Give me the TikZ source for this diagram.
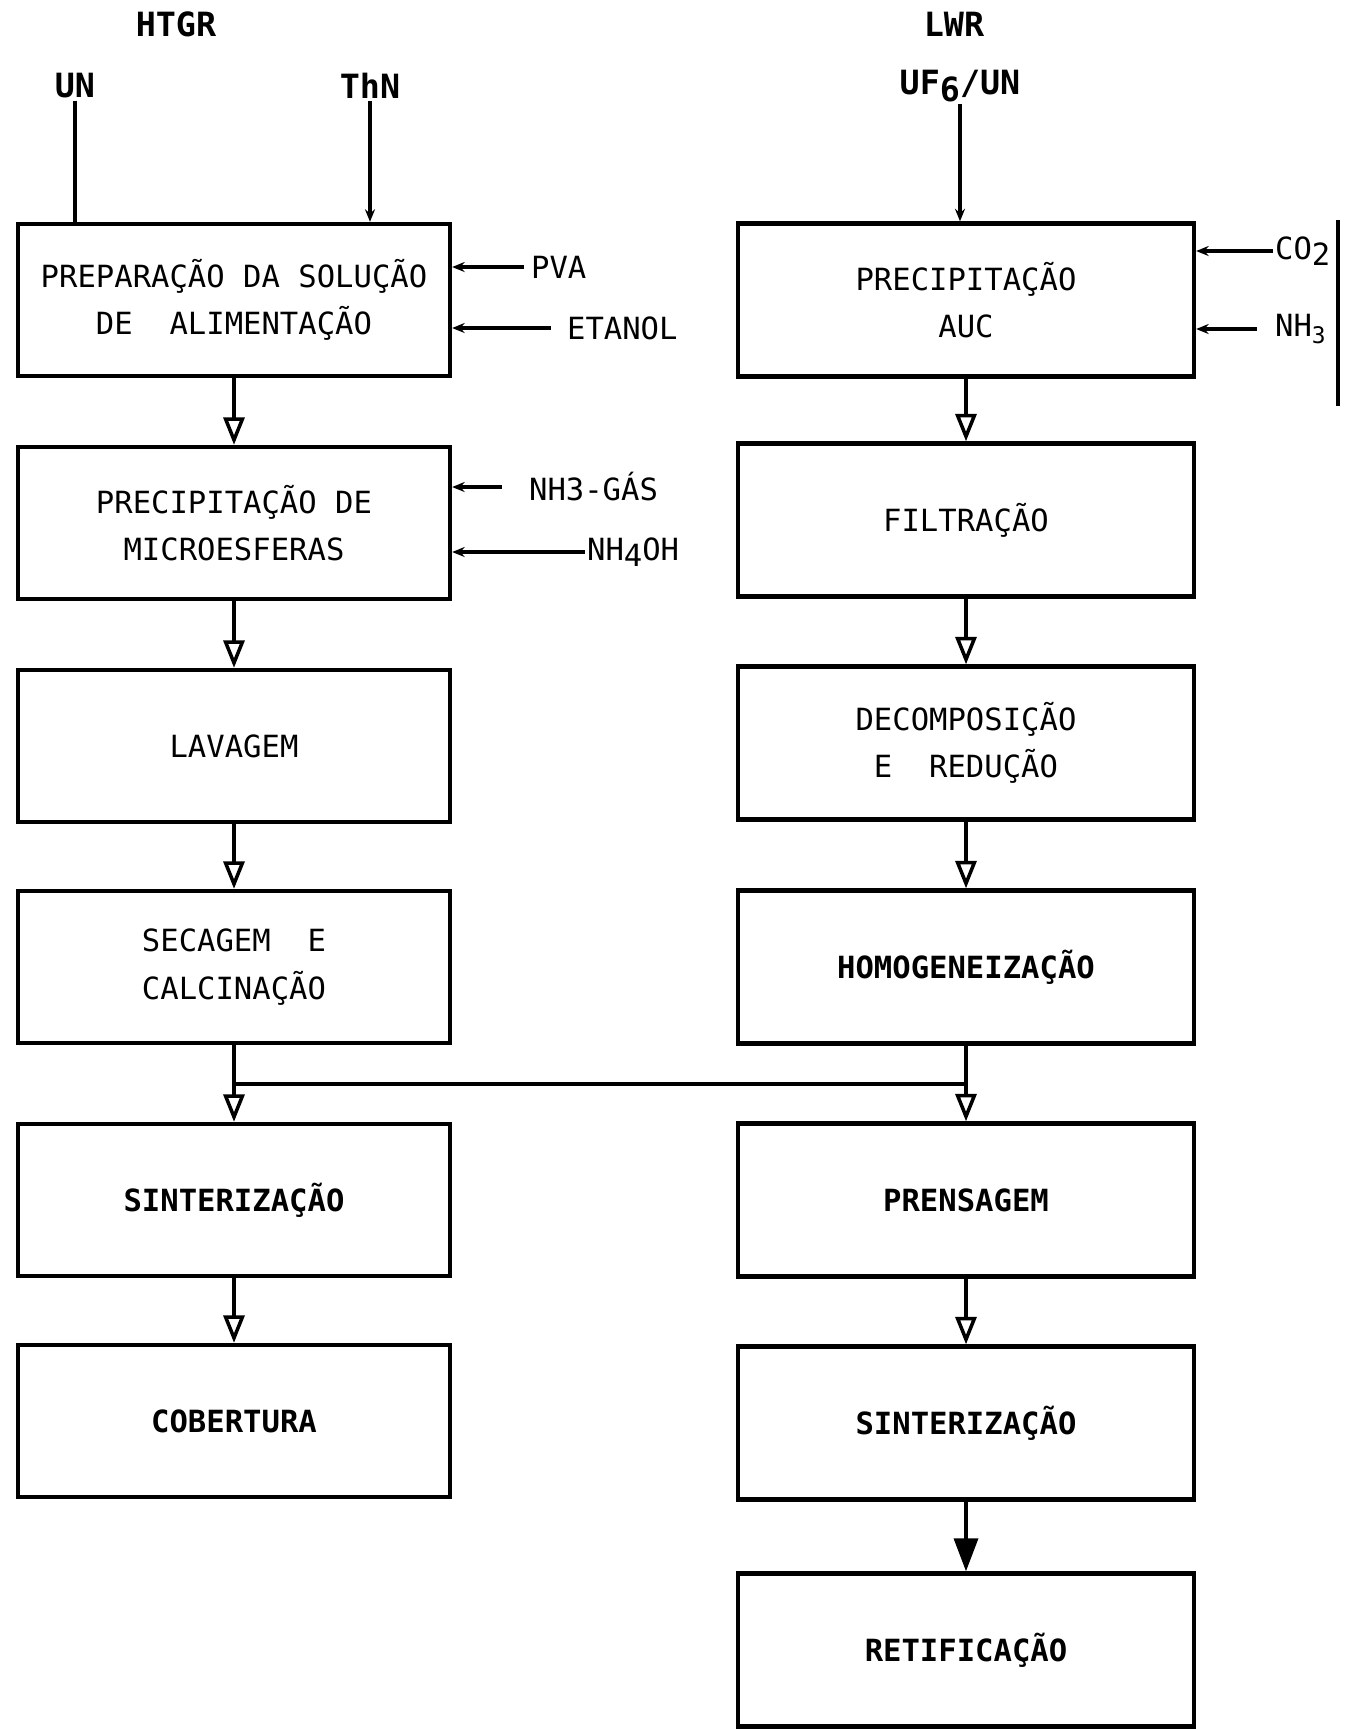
\documentclass[tikz,border=0pt]{standalone}
\usepackage{fontspec}
\setmonofont{DejaVu Sans Mono}
\usetikzlibrary{calc,arrows.meta}
\def\procnode{\node[draw=black,line width=2.5pt,inner sep=0pt,align=center,font=\ttfamily\fontsize{17.4}{27}\selectfont]}
\def\feednode{\node[inner sep=1pt,font=\ttfamily\fontsize{17.4}{20}\selectfont]}
\def\drawflow{\draw[line width=2pt,-{Triangle[open,length=0.55cm,width=0.42cm]}]}
\def\drawfeed{\draw[line width=1.8pt,-{Stealth[length=0.25cm,width=0.2cm]}]}
\newcommand{\lowr}[1]{\raisebox{-0.4ex}{#1}}

\begin{document}
\begin{tikzpicture}[x=0.02cm,y=-0.02cm,
  lbox/.style={minimum width=8.64cm,minimum height=3.04cm},
  rbox/.style={minimum width=9.12cm,minimum height=3.06cm},
  heavy/.style={font=\ttfamily\bfseries\fontsize{17.4}{27}\selectfont}]
\useasboundingbox (0,0) rectangle (1350,1729);

% headings and feeds at the top
\feednode[font=\ttfamily\bfseries\fontsize{19}{20}\selectfont] (htgr) at (176,24) {HTGR};
\feednode[font=\ttfamily\bfseries\fontsize{19}{20}\selectfont] (lwr) at (954,24) {LWR};
\feednode[font=\ttfamily\bfseries\fontsize{19}{20}\selectfont] (un) at (75,86) {UN};
\feednode[font=\ttfamily\bfseries\fontsize{19}{20}\selectfont] (thn) at (370,86) {ThN};
\feednode[font=\ttfamily\bfseries\fontsize{19}{20}\selectfont] (uf) at (960,86) {UF\lowr{6}/UN};

% HTGR column
\procnode[lbox] (L1) at (234,300) {PREPARAÇÃO DA SOLUÇÃO\\DE\ \ ALIMENTAÇÃO};
\procnode[lbox] (L2) at (234,523) {PRECIPITAÇÃO DE\\MICROESFERAS};
\procnode[lbox] (L3) at (234,746) {LAVAGEM};
\procnode[lbox] (L4) at (234,967) {SECAGEM\ \ E\\CALCINAÇÃO};
\procnode[lbox,heavy] (L5) at (234,1200) {SINTERIZAÇÃO};
\procnode[lbox,heavy] (L6) at (234,1421) {COBERTURA};

% LWR column
\procnode[rbox] (R1) at (966,300) {PRECIPITAÇÃO\\AUC};
\procnode[rbox] (R2) at (966,520) {FILTRAÇÃO};
\procnode[rbox] (R3) at (966,743) {DECOMPOSIÇÃO\\E\ \ REDUÇÃO};
\procnode[rbox,heavy] (R4) at (966,967) {HOMOGENEIZAÇÃO};
\procnode[rbox,heavy] (R5) at (966,1200) {PRENSAGEM};
\procnode[rbox,heavy] (R6) at (966,1423) {SINTERIZAÇÃO};
\procnode[rbox,heavy] (R7) at (966,1650) {RETIFICAÇÃO};

% side feeds
\feednode[anchor=west] (pva) at (529,267) {PVA};
\feednode[anchor=west] (etanol) at (565,328) {ETANOL};
\feednode[anchor=west] (nhgas) at (527,487) {NH3-GÁS};
\feednode[anchor=west] (nhoh) at (585,552) {NH\lowr{4}OH};
\feednode[anchor=west] (co) at (1273,251) {CO\lowr{2}};
\feednode[anchor=west] (nh) at (1273,329) {NH\lowr{\fontsize{13}{13}\selectfont 3}};

\draw[line width=2pt] (un) -- (un |- L1.north);
\drawfeed (thn) -- (thn |- L1.north);
\drawfeed (uf) -- (uf |- R1.north);
\drawfeed ($(pva.west)+(-5,0)$) -- (pva.west -| L1.east);
\drawfeed ($(etanol.west)+(-14,0)$) -- (etanol.west -| L1.east);
\drawfeed ($(nhgas.west)+(-25,0)$) -- (nhgas.west -| L2.east);
\drawfeed (nhoh.west) -- (nhoh.west -| L2.east);
\drawfeed (co.west) -- (co.west -| R1.east);
\drawfeed ($(nh.west)+(-16,0)$) -- (nh.west -| R1.east);

% process flow
\drawflow (L1) -- (L2);
\drawflow (L2) -- (L3);
\drawflow (L3) -- (L4);
\drawflow (L4) -- (L5);
\drawflow (L5) -- (L6);
\drawflow (R1) -- (R2);
\drawflow (R2) -- (R3);
\drawflow (R3) -- (R4);
\drawflow (R4) -- (R5);
\drawflow (R5) -- (R6);
\draw[line width=2pt,-{Triangle[length=0.66cm,width=0.48cm]}] (R6) -- (R7);

% cross link between the two columns
\coordinate (merge_left) at (L4.south |- 0,1084);
\draw[line width=2.5pt] (merge_left) -- (merge_left -| R4.south);

% margin mark
\coordinate (mark_top) at (1338,220);
\draw[line width=2pt] (mark_top) -- ++(0,186);
\end{tikzpicture}
\end{document}
